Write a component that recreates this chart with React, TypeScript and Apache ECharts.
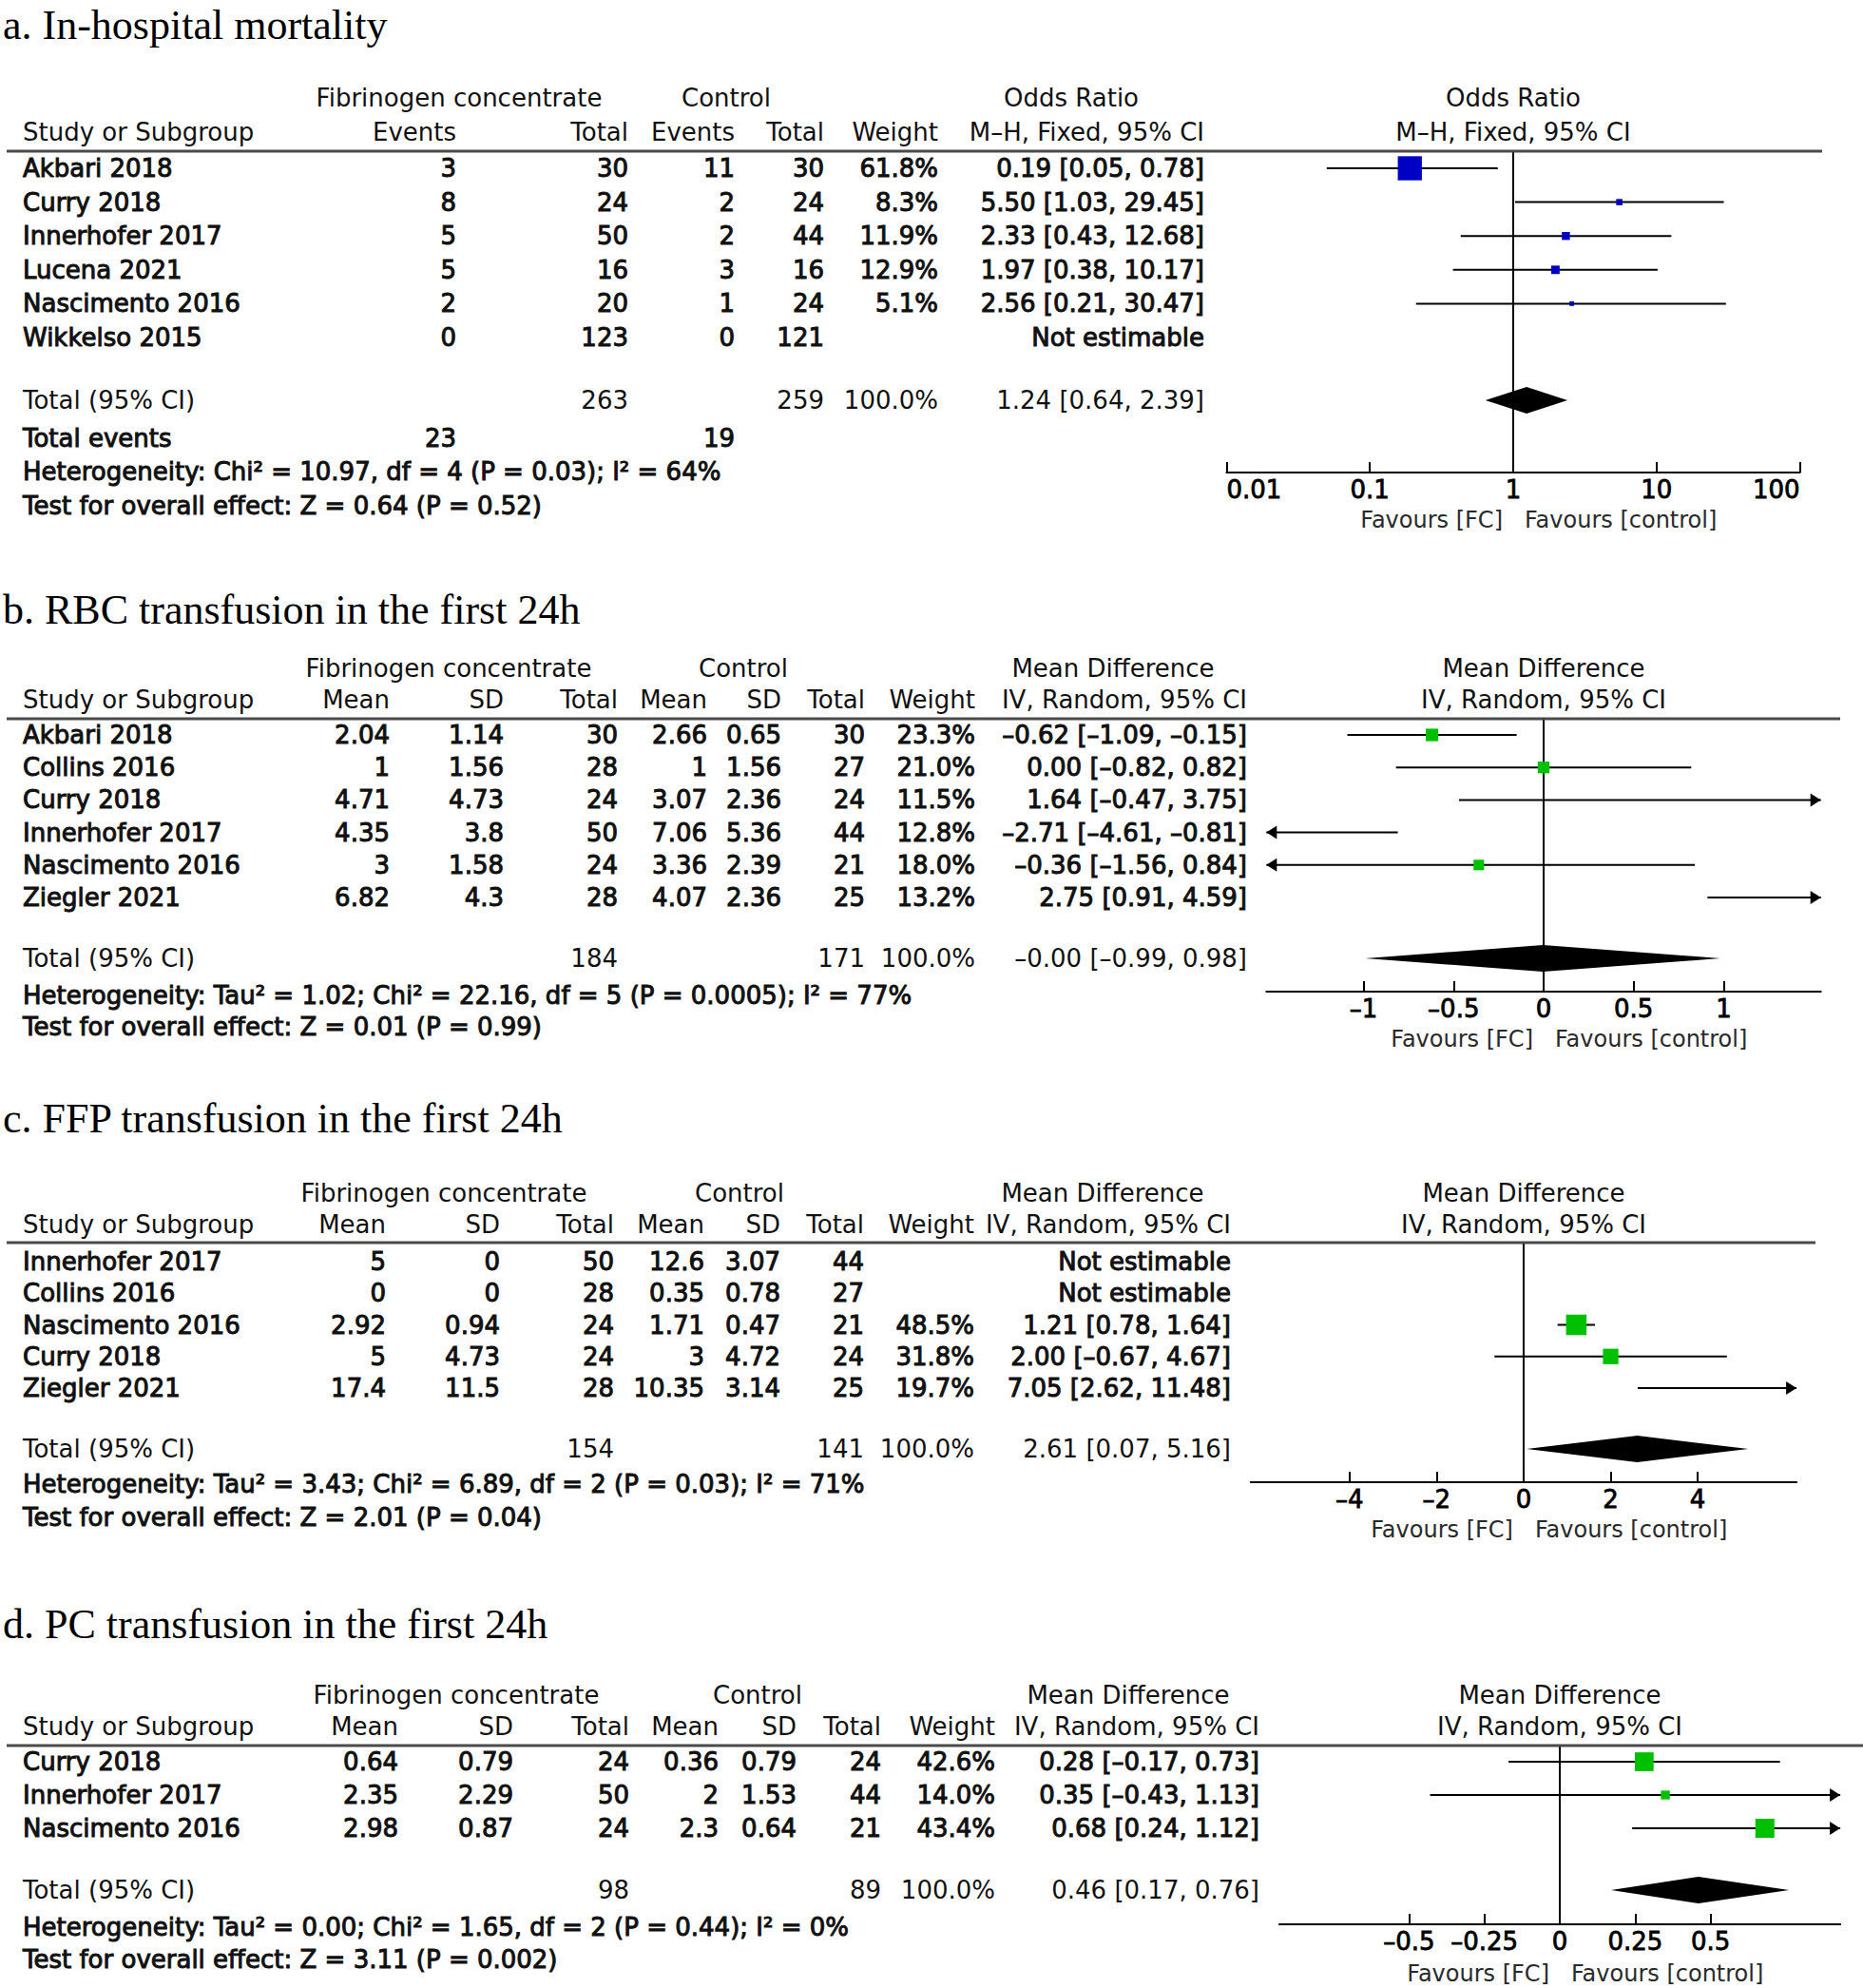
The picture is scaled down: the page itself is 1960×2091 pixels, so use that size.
import React, { useEffect, useRef } from "react";
import * as echarts from "echarts";

const W = 1960;
const H = 2091;
const SANS = "'DejaVu Sans', Verdana, sans-serif";
const SERIF = "'Liberation Serif', 'Times New Roman', serif";
const DASH = "\u2013";

// ---------- Panel a: In-hospital mortality ----------
const A_STUDY = ["Akbari 2018", "Curry 2018", "Innerhofer 2017", "Lucena 2021", "Nascimento 2016", "Wikkelso 2015"];
const A_FC_EVENTS = [3, 8, 5, 5, 2, 0];
const A_FC_TOTAL = [30, 24, 50, 16, 20, 123];
const A_CT_EVENTS = [11, 2, 2, 3, 1, 0];
const A_CT_TOTAL = [30, 24, 44, 16, 24, 121];
const A_WEIGHT = [61.8, 8.3, 11.9, 12.9, 5.1, null];
const A_EST = [0.19, 5.5, 2.33, 1.97, 2.56, null];
const A_LO = [0.05, 1.03, 0.43, 0.38, 0.21, null];
const A_HI = [0.78, 29.45, 12.68, 10.17, 30.47, null];
const A_POOLED = [1.24, 0.64, 2.39];
const A_TOTALS = [263, 259];
const A_EVENTS = [23, 19];
const A_HET = "Heterogeneity: Chi\u00b2 = 10.97, df = 4 (P = 0.03); I\u00b2 = 64%";
const A_TEST = "Test for overall effect: Z = 0.64 (P = 0.52)";
const A_RANGE = [0.01, 100];

// ---------- Panel b: RBC transfusion ----------
const B_STUDY = ["Akbari 2018", "Collins 2016", "Curry 2018", "Innerhofer 2017", "Nascimento 2016", "Ziegler 2021"];
const B_FC_MEAN = [2.04, 1, 4.71, 4.35, 3, 6.82];
const B_FC_SD = [1.14, 1.56, 4.73, 3.8, 1.58, 4.3];
const B_FC_TOTAL = [30, 28, 24, 50, 24, 28];
const B_CT_MEAN = [2.66, 1, 3.07, 7.06, 3.36, 4.07];
const B_CT_SD = [0.65, 1.56, 2.36, 5.36, 2.39, 2.36];
const B_CT_TOTAL = [30, 27, 24, 44, 21, 25];
const B_WEIGHT = [23.3, 21.0, 11.5, 12.8, 18.0, 13.2];
const B_EST = [-0.62, 0.0, 1.64, -2.71, -0.36, 2.75];
const B_LO = [-1.09, -0.82, -0.47, -4.61, -1.56, 0.91];
const B_HI = [-0.15, 0.82, 3.75, -0.81, 0.84, 4.59];
const B_POOLED = [-0.004, -0.99, 0.98];
const B_TOTALS = [184, 171];
const B_HET = "Heterogeneity: Tau\u00b2 = 1.02; Chi\u00b2 = 22.16, df = 5 (P = 0.0005); I\u00b2 = 77%";
const B_TEST = "Test for overall effect: Z = 0.01 (P = 0.99)";
const B_TICKS = [-1, -0.5, 0, 0.5, 1];
const B_RANGE = [-1.54, 1.54];

// ---------- Panel c: FFP transfusion ----------
const C_STUDY = ["Innerhofer 2017", "Collins 2016", "Nascimento 2016", "Curry 2018", "Ziegler 2021"];
const C_FC_MEAN = [5, 0, 2.92, 5, 17.4];
const C_FC_SD = [0, 0, 0.94, 4.73, 11.5];
const C_FC_TOTAL = [50, 28, 24, 24, 28];
const C_CT_MEAN = [12.6, 0.35, 1.71, 3, 10.35];
const C_CT_SD = [3.07, 0.78, 0.47, 4.72, 3.14];
const C_CT_TOTAL = [44, 27, 21, 24, 25];
const C_WEIGHT = [null, null, 48.5, 31.8, 19.7];
const C_EST = [null, null, 1.21, 2.0, 7.05];
const C_LO = [null, null, 0.78, -0.67, 2.62];
const C_HI = [null, null, 1.64, 4.67, 11.48];
const C_POOLED = [2.61, 0.07, 5.16];
const C_TOTALS = [154, 141];
const C_HET = "Heterogeneity: Tau\u00b2 = 3.43; Chi\u00b2 = 6.89, df = 2 (P = 0.03); I\u00b2 = 71%";
const C_TEST = "Test for overall effect: Z = 2.01 (P = 0.04)";
const C_TICKS = [-4, -2, 0, 2, 4];
const C_RANGE = [-6.27, 6.27];

// ---------- Panel d: PC transfusion ----------
const D_STUDY = ["Curry 2018", "Innerhofer 2017", "Nascimento 2016"];
const D_FC_MEAN = [0.64, 2.35, 2.98];
const D_FC_SD = [0.79, 2.29, 0.87];
const D_FC_TOTAL = [24, 50, 24];
const D_CT_MEAN = [0.36, 2, 2.3];
const D_CT_SD = [0.79, 1.53, 0.64];
const D_CT_TOTAL = [24, 44, 21];
const D_WEIGHT = [42.6, 14.0, 43.4];
const D_EST = [0.28, 0.35, 0.68];
const D_LO = [-0.17, -0.43, 0.24];
const D_HI = [0.73, 1.13, 1.12];
const D_POOLED = [0.46, 0.17, 0.76];
const D_TOTALS = [98, 89];
const D_HET = "Heterogeneity: Tau\u00b2 = 0.00; Chi\u00b2 = 1.65, df = 2 (P = 0.44); I\u00b2 = 0%";
const D_TEST = "Test for overall effect: Z = 3.11 (P = 0.002)";
const D_TICKS = [-0.5, -0.25, 0, 0.25, 0.5];
const D_RANGE = [-0.93, 0.93];

const OR_HEADS = ["Events", "Total", "Events", "Total", "Weight", "M" + DASH + "H, Fixed, 95% CI"];
const MD_HEADS = ["Mean", "SD", "Total", "Mean", "SD", "Total", "Weight", "IV, Random, 95% CI"];

const fmtNum = (v: number) => String(v).replace("-", DASH);
const f2 = (v: number) => v.toFixed(2).replace(/-/g, DASH);
const ciText = (e: number, l: number, h: number) => `${f2(e)} [${f2(l)}, ${f2(h)}]`;

type Panel = {
  title: string;
  log: boolean;
  h1Labels: string[];
  colHeads: string[];
  plotHead: string[];
  studies: string[];
  cells: number[][];
  weight: (number | null)[];
  est: (number | null)[];
  lo: (number | null)[];
  hi: (number | null)[];
  pooled: number[];
  totals: number[];
  totalCols: number[];
  footers: { label: string; vals?: number[]; cols?: number[] }[];
  range: number[];
  ticks?: number[];
  ref: number;
  color: string;
  layout: {
    titleY: number; h1Y: number; h2Y: number; lineY: number; lineX2: number;
    row0: number; rowH: number; totalY: number; footY: number[];
    cols: number[]; h1X: number[]; plotCenter: number;
    axisY: number; gridLeft: number; gridWidth: number; favY: number;
  };
};

const PANELS: Panel[] = [
  {
    title: "a. In-hospital mortality",
    log: true,
    h1Labels: ["Fibrinogen concentrate", "Control", "Odds Ratio"],
    colHeads: OR_HEADS,
    plotHead: ["Odds Ratio", "M" + DASH + "H, Fixed, 95% CI"],
    studies: A_STUDY,
    cells: [A_FC_EVENTS, A_FC_TOTAL, A_CT_EVENTS, A_CT_TOTAL],
    weight: A_WEIGHT, est: A_EST, lo: A_LO, hi: A_HI,
    pooled: A_POOLED, totals: A_TOTALS, totalCols: [1, 3],
    footers: [
      { label: "Total events", vals: A_EVENTS, cols: [0, 2] },
      { label: A_HET },
      { label: A_TEST },
    ],
    range: A_RANGE, ref: 1, color: "#0000c4",
    layout: {
      titleY: 26, h1Y: 103, h2Y: 139, lineY: 159, lineX2: 1917,
      row0: 177, rowH: 35.6, totalY: 421, footY: [461, 496, 532],
      cols: [480, 661, 773, 867, 987, 1267], h1X: [483, 764, 1127], plotCenter: 1592,
      axisY: 497, gridLeft: 1290.4, gridWidth: 603.2, favY: 547,
    },
  },
  {
    title: "b. RBC transfusion in the first 24h",
    log: false,
    h1Labels: ["Fibrinogen concentrate", "Control", "Mean Difference"],
    colHeads: MD_HEADS,
    plotHead: ["Mean Difference", "IV, Random, 95% CI"],
    studies: B_STUDY,
    cells: [B_FC_MEAN, B_FC_SD, B_FC_TOTAL, B_CT_MEAN, B_CT_SD, B_CT_TOTAL],
    weight: B_WEIGHT, est: B_EST, lo: B_LO, hi: B_HI,
    pooled: B_POOLED, totals: B_TOTALS, totalCols: [2, 5],
    footers: [{ label: B_HET }, { label: B_TEST }],
    range: B_RANGE, ticks: B_TICKS, ref: 0, color: "#00c000",
    layout: {
      titleY: 641, h1Y: 703, h2Y: 736, lineY: 756, lineX2: 1936,
      row0: 773, rowH: 34.2, totalY: 1008, footY: [1047, 1080],
      cols: [410, 530, 650, 744, 822, 910, 1026, 1312], h1X: [472, 782, 1171], plotCenter: 1624,
      axisY: 1043, gridLeft: 1332.3, gridWidth: 583.4, favY: 1093,
    },
  },
  {
    title: "c. FFP transfusion in the first 24h",
    log: false,
    h1Labels: ["Fibrinogen concentrate", "Control", "Mean Difference"],
    colHeads: MD_HEADS,
    plotHead: ["Mean Difference", "IV, Random, 95% CI"],
    studies: C_STUDY,
    cells: [C_FC_MEAN, C_FC_SD, C_FC_TOTAL, C_CT_MEAN, C_CT_SD, C_CT_TOTAL],
    weight: C_WEIGHT, est: C_EST, lo: C_LO, hi: C_HI,
    pooled: C_POOLED, totals: C_TOTALS, totalCols: [2, 5],
    footers: [{ label: C_HET }, { label: C_TEST }],
    range: C_RANGE, ticks: C_TICKS, ref: 0, color: "#00c000",
    layout: {
      titleY: 1176, h1Y: 1255, h2Y: 1288, lineY: 1307, lineX2: 1910,
      row0: 1327, rowH: 33.25, totalY: 1524, footY: [1561, 1596],
      cols: [406, 526, 646, 741, 821, 909, 1025, 1295], h1X: [467, 778, 1160], plotCenter: 1603,
      axisY: 1559, gridLeft: 1315.8, gridWidth: 574.3, favY: 1609,
    },
  },
  {
    title: "d. PC transfusion in the first 24h",
    log: false,
    h1Labels: ["Fibrinogen concentrate", "Control", "Mean Difference"],
    colHeads: MD_HEADS,
    plotHead: ["Mean Difference", "IV, Random, 95% CI"],
    studies: D_STUDY,
    cells: [D_FC_MEAN, D_FC_SD, D_FC_TOTAL, D_CT_MEAN, D_CT_SD, D_CT_TOTAL],
    weight: D_WEIGHT, est: D_EST, lo: D_LO, hi: D_HI,
    pooled: D_POOLED, totals: D_TOTALS, totalCols: [2, 5],
    footers: [{ label: D_HET }, { label: D_TEST }],
    range: D_RANGE, ticks: D_TICKS, ref: 0, color: "#00c000",
    layout: {
      titleY: 1708, h1Y: 1783, h2Y: 1816, lineY: 1836, lineX2: 1960,
      row0: 1853, rowH: 35, totalY: 1988, footY: [2027, 2061],
      cols: [419, 540, 662, 756, 838, 927, 1047, 1325], h1X: [480, 797, 1187], plotCenter: 1641,
      axisY: 2024, gridLeft: 1345.9, gridWidth: 590.2, favY: 2076,
    },
  },
];

const FS = 26;

function txt(x: number, y: number, s: string, align: string, opt: any = {}) {
  const color = opt.color ?? "#111";
  return {
    type: "text",
    x,
    y,
    silent: true,
    z: 10,
    style: {
      text: s,
      fontSize: opt.size ?? FS,
      fontFamily: opt.family ?? SANS,
      fontWeight: "normal",
      fill: color,
      align,
      verticalAlign: "middle",
      stroke: opt.bold ? color : "transparent",
      lineWidth: opt.bold ? 1.0 : 0,
    },
  };
}

function boxSide(w: number) {
  return 1.6 * Math.pow(w, 0.67);
}

function buildGraphic() {
  const g: any[] = [];
  PANELS.forEach((p) => {
    const L = p.layout;
    const nCells = p.cells.length;
    const wCol = nCells;
    const ciCol = nCells + 1;
    g.push(txt(3, L.titleY, p.title, "left", { size: 44, family: SERIF, color: "#000" }));
    p.h1Labels.forEach((s, i) => g.push(txt(L.h1X[i], L.h1Y, s, "center")));
    g.push(txt(L.plotCenter, L.h1Y, p.plotHead[0], "center"));
    g.push(txt(24, L.h2Y, "Study or Subgroup", "left"));
    p.colHeads.forEach((s, i) => g.push(txt(L.cols[i], L.h2Y, s, "right")));
    g.push(txt(L.plotCenter, L.h2Y, p.plotHead[1], "center"));
    g.push({
      type: "line",
      silent: true,
      z: 5,
      shape: { x1: 7, y1: L.lineY, x2: L.lineX2, y2: L.lineY },
      style: { stroke: "#4a4a4a", lineWidth: 3 },
    });
    p.studies.forEach((name, r) => {
      const y = L.row0 + r * L.rowH;
      g.push(txt(24, y, name, "left", { bold: true }));
      p.cells.forEach((col, c) => g.push(txt(L.cols[c], y, fmtNum(col[r]), "right", { bold: true })));
      const w = p.weight[r];
      if (w != null) g.push(txt(L.cols[wCol], y, w.toFixed(1) + "%", "right", { bold: true }));
      const e = p.est[r];
      if (e != null) {
        g.push(txt(L.cols[ciCol], y, ciText(e, p.lo[r] as number, p.hi[r] as number), "right", { bold: true }));
      } else {
        g.push(txt(L.cols[ciCol], y, "Not estimable", "right", { bold: true }));
      }
    });
    g.push(txt(24, L.totalY, "Total (95% CI)", "left"));
    p.totals.forEach((v, i) => g.push(txt(L.cols[p.totalCols[i]], L.totalY, String(v), "right")));
    g.push(txt(L.cols[wCol], L.totalY, "100.0%", "right"));
    g.push(txt(L.cols[ciCol], L.totalY, ciText(p.pooled[0], p.pooled[1], p.pooled[2]), "right"));
    p.footers.forEach((f, i) => {
      const y = L.footY[i];
      g.push(txt(24, y, f.label, "left", { bold: true }));
      if (f.vals && f.cols) {
        f.vals.forEach((v, j) => g.push(txt(L.cols[(f.cols as number[])[j]], y, String(v), "right", { bold: true })));
      }
    });
    const zeroX = p.log
      ? L.gridLeft + ((Math.log10(p.ref) - Math.log10(p.range[0])) / (Math.log10(p.range[1]) - Math.log10(p.range[0]))) * L.gridWidth
      : L.gridLeft + ((p.ref - p.range[0]) / (p.range[1] - p.range[0])) * L.gridWidth;
    g.push(txt(zeroX - 11, L.favY, "Favours [FC]", "right", { size: 24, color: "#2a2a2a" }));
    g.push(txt(zeroX + 12, L.favY, "Favours [control]", "left", { size: 24, color: "#2a2a2a" }));
  });
  return g;
}

function studyRenderer(xMin: number, xMax: number, color: string) {
  return (params: any, api: any) => {
    const est = api.value(0);
    const lo = api.value(1);
    const hi = api.value(2);
    const row = api.value(3);
    const w = api.value(4);
    const loC = Math.max(lo, xMin);
    const hiC = Math.min(hi, xMax);
    const p1 = api.coord([loC, row]);
    const p2 = api.coord([hiC, row]);
    const y = p1[1];
    const children: any[] = [
      { type: "line", shape: { x1: p1[0], y1: y, x2: p2[0], y2: y }, style: { stroke: "#000", lineWidth: 2 } },
    ];
    const AL = 11;
    const AH = 7;
    if (lo < xMin) {
      children.push({
        type: "polygon",
        shape: { points: [[p1[0], y], [p1[0] + AL, y - AH], [p1[0] + AL, y + AH]] },
        style: { fill: "#000" },
      });
    }
    if (hi > xMax) {
      children.push({
        type: "polygon",
        shape: { points: [[p2[0], y], [p2[0] - AL, y - AH], [p2[0] - AL, y + AH]] },
        style: { fill: "#000" },
      });
    }
    if (est >= xMin && est <= xMax) {
      const c = api.coord([est, row]);
      const s = boxSide(w);
      children.push({
        type: "rect",
        shape: { x: c[0] - s / 2, y: c[1] - s / 2, width: s, height: s },
        style: { fill: color },
      });
    }
    return { type: "group", children };
  };
}

function diamondRenderer() {
  return (params: any, api: any) => {
    const row = api.value(3);
    const pe = api.coord([api.value(0), row]);
    const pl = api.coord([api.value(1), row]);
    const ph = api.coord([api.value(2), row]);
    const h = 14;
    return {
      type: "polygon",
      shape: { points: [[pl[0], pe[1]], [pe[0], pe[1] - h], [ph[0], pe[1]], [pe[0], pe[1] + h]] },
      style: { fill: "#000" },
    };
  };
}

function buildOption() {
  const grid: any[] = [];
  const xAxis: any[] = [];
  const yAxis: any[] = [];
  const series: any[] = [];
  PANELS.forEach((p, k) => {
    const L = p.layout;
    grid.push({ left: L.gridLeft, top: L.lineY, width: L.gridWidth, height: L.axisY - L.lineY, containLabel: false });
    const yMin = (L.lineY - L.row0) / L.rowH;
    const yMax = (L.axisY - L.row0) / L.rowH;
    const labelCommon = {
      fontSize: FS,
      fontFamily: SANS,
      color: "#000",
      margin: 5,
      textBorderColor: "#000",
      textBorderWidth: 0.8,
    };
    const axisLine = { show: true, onZero: false, lineStyle: { color: "#000", width: 2 } };
    const tickStyle = { color: "#000", width: 2 };
    if (p.log) {
      xAxis.push({
        type: "log",
        logBase: 10,
        gridIndex: k,
        position: "bottom",
        min: p.range[0],
        max: p.range[1],
        axisLine,
        axisTick: { show: true, inside: true, length: 11, lineStyle: tickStyle },
        minorTick: { show: false },
        splitLine: { show: false },
        axisLabel: {
          ...labelCommon,
          alignMinLabel: "left",
          alignMaxLabel: "right",
          formatter: (v: number) => String(v),
        },
      });
    } else {
      xAxis.push({
        type: "value",
        gridIndex: k,
        position: "bottom",
        min: p.range[0],
        max: p.range[1],
        axisLine,
        axisTick: { show: true, inside: true, length: 11, lineStyle: tickStyle, customValues: p.ticks },
        splitLine: { show: false },
        axisLabel: {
          ...labelCommon,
          customValues: p.ticks,
          formatter: (v: number) => String(v).replace("-", DASH),
        },
      });
    }
    yAxis.push({ type: "value", gridIndex: k, min: yMin, max: yMax, inverse: true, show: false, splitLine: { show: false } });

    const studyData: number[][] = [];
    p.studies.forEach((_, r) => {
      const e = p.est[r];
      if (e != null) studyData.push([e, p.lo[r] as number, p.hi[r] as number, r, p.weight[r] as number]);
    });
    series.push({
      type: "line",
      xAxisIndex: k,
      yAxisIndex: k,
      data: [[p.ref, yMin], [p.ref, yMax]],
      symbol: "none",
      silent: true,
      z: 1,
      lineStyle: { color: "#000", width: 2 },
    });
    series.push({
      type: "custom",
      xAxisIndex: k,
      yAxisIndex: k,
      data: studyData,
      encode: { x: 0, y: 3 },
      renderItem: studyRenderer(p.range[0], p.range[1], p.color),
      silent: true,
      z: 3,
    });
    series.push({
      type: "custom",
      xAxisIndex: k,
      yAxisIndex: k,
      data: [[p.pooled[0], p.pooled[1], p.pooled[2], (L.totalY - L.row0) / L.rowH]],
      encode: { x: 0, y: 3 },
      renderItem: diamondRenderer(),
      silent: true,
      z: 3,
    });
  });
  return {
    animation: false,
    backgroundColor: "#ffffff",
    grid,
    xAxis,
    yAxis,
    series,
    graphic: { elements: buildGraphic() },
  };
}

export default function App() {
  const ref = useRef<HTMLDivElement>(null);
  useEffect(() => {
    if (!ref.current) return;
    const chart = echarts.init(ref.current, null, { renderer: "svg", width: W, height: H });
    chart.setOption(buildOption() as any);
    return () => chart.dispose();
  }, []);
  return (
    <div
      ref={ref}
      style={{ position: "absolute", left: 0, top: 0, width: W, height: H, background: "#fff" }}
    />
  );
}
